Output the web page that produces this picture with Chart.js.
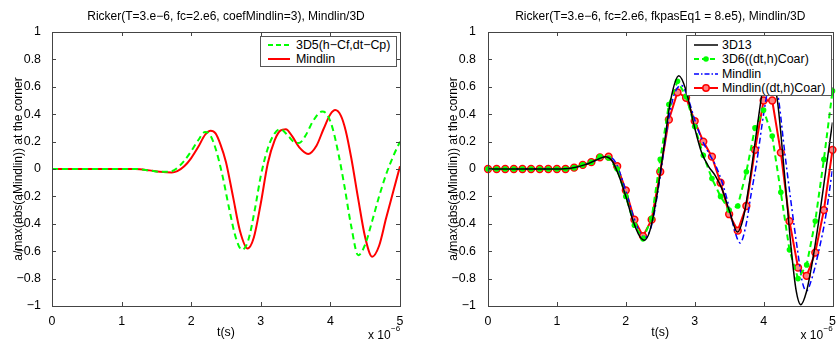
<!DOCTYPE html>
<html>
<head>
<meta charset="utf-8">
<script src="https://cdn.jsdelivr.net/npm/chart.js@4/dist/chart.umd.min.js"></script>
<style>
  body { margin: 0; background: #fff; width: 838px; height: 341px; overflow: hidden; position: relative; font-family: "Liberation Sans", Arial, sans-serif; }
  .box { position: absolute; top: 0; height: 341px; }
  .legend { position: absolute; background: #fff; border: 1px solid #555; font-size: 12.4px; color: #000; box-sizing: border-box; }
  .row { position: absolute; left: 0; height: 14px; line-height: 14px; white-space: nowrap; }
  .row svg { position: absolute; left: 6px; top: 0; }
  .row span { position: absolute; }
</style>
</head>
<body>
<div class="box" style="left:0;width:420px"><canvas id="g1"></canvas></div>
<div class="box" style="left:420px;width:418px"><canvas id="g2"></canvas></div>

<div class="legend" style="left:260px;top:36px;width:137px;height:31px">
  <div class="row" style="top:1px"><svg width="24" height="14"><line x1="1" y1="7" x2="23" y2="7" stroke="#00ff00" stroke-width="2" stroke-dasharray="5,3"/></svg><span style="left:35px">3D5(h−Cf,dt−Cp)</span></div>
  <div class="row" style="top:15px"><svg width="24" height="14"><line x1="1" y1="7" x2="23" y2="7" stroke="#ff0000" stroke-width="2"/></svg><span style="left:35px">Mindlin</span></div>
</div>

<div class="legend" style="left:686px;top:35px;width:146px;height:61px">
  <div class="row" style="top:2px"><svg width="26" height="14"><line x1="1" y1="7" x2="25" y2="7" stroke="#000" stroke-width="1.5"/></svg><span style="left:35px">3D13</span></div>
  <div class="row" style="top:16px"><svg width="26" height="14"><line x1="1" y1="7" x2="25" y2="7" stroke="#00ff00" stroke-width="2" stroke-dasharray="5,3"/><circle cx="13" cy="7" r="2.8" fill="#00ff00"/></svg><span style="left:35px">3D6((dt,h)Coar)</span></div>
  <div class="row" style="top:31px"><svg width="26" height="14"><line x1="1" y1="7" x2="25" y2="7" stroke="#0000ff" stroke-width="1.5" stroke-dasharray="5,2,1.5,2"/></svg><span style="left:35px">Mindlin</span></div>
  <div class="row" style="top:45px"><svg width="26" height="14"><line x1="1" y1="7" x2="25" y2="7" stroke="#ff0000" stroke-width="2"/><circle cx="13" cy="7" r="3.2" fill="#ff8080" stroke="#ff0000" stroke-width="1.5"/></svg><span style="left:35px">Mindlin((dt,h)Coar)</span></div>
</div>

<script>
// axes ticks (time in units of 1e-6 s)
const xTicks = [0, 1, 2, 3, 4, 5];
const yTicks = [-1, -0.8, -0.6, -0.4, -0.2, 0, 0.2, 0.4, 0.6, 0.8, 1];

// left panel: coefMindlin=3
const left3D5T = [0, 1.2, 1.4, 1.55, 1.68, 1.78, 1.9, 2.0, 2.1, 2.2, 2.27, 2.35, 2.45, 2.55, 2.64, 2.73, 2.82, 2.92, 3.0, 3.1, 3.2, 3.28, 3.38, 3.47, 3.55, 3.65, 3.75, 3.88, 3.95, 4.03, 4.12, 4.2, 4.3, 4.4, 4.5, 4.6, 4.7, 4.8, 4.9, 5.0];
const left3D5V = [0, 0, -0.01, -0.02, -0.02, 0.0, 0.06, 0.13, 0.21, 0.27, 0.25, 0.15, -0.05, -0.30, -0.50, -0.59, -0.52, -0.28, -0.05, 0.15, 0.26, 0.29, 0.25, 0.20, 0.19, 0.25, 0.35, 0.42, 0.40, 0.30, 0.10, -0.12, -0.42, -0.63, -0.55, -0.38, -0.20, -0.04, 0.09, 0.20];
const leftMindT = [0, 1.2, 1.4, 1.55, 1.72, 1.8, 1.9, 2.0, 2.1, 2.2, 2.28, 2.35, 2.42, 2.5, 2.6, 2.7, 2.81, 2.9, 3.0, 3.1, 3.2, 3.28, 3.36, 3.45, 3.55, 3.68, 3.8, 3.9, 4.0, 4.07, 4.15, 4.22, 4.3, 4.4, 4.5, 4.6, 4.7, 4.8, 4.9, 5.0];
const leftMindV = [0, 0, -0.01, -0.02, -0.025, -0.015, 0.02, 0.08, 0.16, 0.25, 0.28, 0.26, 0.18, 0.05, -0.20, -0.45, -0.58, -0.50, -0.25, 0.04, 0.21, 0.28, 0.29, 0.24, 0.16, 0.11, 0.17, 0.29, 0.40, 0.43, 0.39, 0.28, 0.08, -0.22, -0.50, -0.64, -0.56, -0.36, -0.17, 0.02];

// right panel: fkpasEq1 = 8.e5
const r3D13T = [0, 1.0, 1.2, 1.4, 1.55, 1.7, 1.8, 1.9, 2.0, 2.1, 2.2, 2.27, 2.35, 2.45, 2.55, 2.65, 2.77, 2.87, 3.0, 3.1, 3.2, 3.3, 3.4, 3.5, 3.62, 3.7, 3.8, 3.9, 4.0, 4.08, 4.2, 4.3, 4.4, 4.47, 4.54, 4.62, 4.7, 4.8, 4.9, 5.0];
const r3D13V = [0, 0, 0.005, 0.03, 0.06, 0.09, 0.06, -0.05, -0.20, -0.37, -0.49, -0.52, -0.45, -0.20, 0.15, 0.50, 0.68, 0.58, 0.30, 0.12, 0.02, -0.05, -0.15, -0.30, -0.46, -0.37, -0.08, 0.28, 0.62, 0.74, 0.50, -0.02, -0.58, -0.88, -0.99, -0.90, -0.70, -0.38, -0.02, 0.34];
const rMindT = [0, 1.0, 1.2, 1.4, 1.55, 1.72, 1.85, 2.0, 2.1, 2.2, 2.28, 2.38, 2.5, 2.6, 2.7, 2.81, 2.9, 3.0, 3.1, 3.2, 3.3, 3.4, 3.5, 3.58, 3.66, 3.74, 3.82, 3.9, 4.0, 4.08, 4.15, 4.22, 4.3, 4.4, 4.5, 4.56, 4.62, 4.7, 4.8, 4.9, 5.0];
const rMindV = [0, 0, 0.005, 0.03, 0.06, 0.09, 0.05, -0.16, -0.33, -0.46, -0.50, -0.40, -0.05, 0.30, 0.54, 0.61, 0.52, 0.36, 0.22, 0.12, 0.03, -0.10, -0.28, -0.45, -0.54, -0.42, -0.18, 0.05, 0.40, 0.62, 0.68, 0.50, 0.15, -0.25, -0.62, -0.82, -0.89, -0.80, -0.60, -0.35, 0.0];
const coarseT = [0, 0.125, 0.25, 0.375, 0.5, 0.625, 0.75, 0.875, 1, 1.125, 1.25, 1.375, 1.5, 1.625, 1.75, 1.875, 2, 2.125, 2.25, 2.375, 2.5, 2.625, 2.75, 2.875, 3, 3.125, 3.25, 3.375, 3.5, 3.625, 3.75, 3.875, 4, 4.125, 4.25, 4.375, 4.5, 4.625, 4.75, 4.875, 5];
const r3D6V = [0, 0, 0, 0, 0, 0, 0, 0, 0, 0, 0.01, 0.03, 0.05, 0.09, 0.08, 0.0, -0.20, -0.41, -0.51, -0.36, 0.07, 0.47, 0.64, 0.53, 0.31, 0.10, -0.07, -0.20, -0.30, -0.27, -0.02, 0.30, 0.43, 0.24, -0.17, -0.59, -0.80, -0.70, -0.38, 0.07, 0.57];
const rMindCoarV = [0, 0, 0, 0, 0, 0, 0, 0, 0, 0, 0.01, 0.03, 0.05, 0.085, 0.09, 0.02, -0.156, -0.37, -0.49, -0.37, -0.02, 0.36, 0.56, 0.52, 0.35, 0.20, 0.09, -0.10, -0.33, -0.45, -0.27, 0.14, 0.50, 0.50, 0.12, -0.38, -0.72, -0.78, -0.61, -0.30, 0.14];

const FONT = '"Liberation Sans", Arial, sans-serif';

function pts(ts, vs) {
  return ts.map((t, i) => ({ x: t, y: vs[i] }));
}

function fmt(v) {
  const r = Math.round(v * 10) / 10;
  return String(r).replace('-', '\u2212');
}

const matlabFrame = {
  id: 'matlabFrame',
  afterDraw(chart, args, opts) {
    const { ctx, chartArea } = chart;
    const { left, right, top, bottom } = chartArea;
    const sx = chart.scales.x, sy = chart.scales.y;
    ctx.save();
    ctx.strokeStyle = '#444';
    ctx.lineWidth = 1;
    ctx.beginPath();
    xTicks.forEach(v => {
      const p = Math.round(sx.getPixelForValue(v)) + 0.5;
      ctx.moveTo(p, bottom); ctx.lineTo(p, bottom - 4);
      ctx.moveTo(p, top); ctx.lineTo(p, top + 4);
    });
    yTicks.forEach(v => {
      const p = Math.round(sy.getPixelForValue(v)) + 0.5;
      ctx.moveTo(left, p); ctx.lineTo(left + 4, p);
      ctx.moveTo(right, p); ctx.lineTo(right - 4, p);
    });
    ctx.stroke();
    ctx.strokeRect(Math.round(left) + 0.5, Math.round(top) + 0.5, Math.round(right - left), Math.round(bottom - top));

    ctx.fillStyle = '#000';
    ctx.font = '12px ' + FONT;
    ctx.textAlign = 'center';
    ctx.textBaseline = 'middle';
    ctx.fillText(opts.title, (left + right) / 2, 17);

    ctx.textAlign = 'left';
    ctx.textBaseline = 'alphabetic';
    ctx.fillText('x 10', right - 32, 339);
    ctx.font = '8px ' + FONT;
    ctx.fillText('\u22126', right - 9, 331);
    ctx.restore();
  }
};

function makeChart(id, datasets, title, yWidth, padRight, yTitlePad, yTickPad) {
  const ctx = document.getElementById(id).getContext('2d');
  return new Chart(ctx, {
    type: 'line',
    data: { datasets: datasets },
    options: {
      responsive: true,
      maintainAspectRatio: false,
      animation: false,
      layout: { padding: { left: 0, right: padRight, top: 32, bottom: 0 } },
      plugins: {
        legend: { display: false },
        tooltip: { enabled: false },
        matlabFrame: { title: title },
      },
      elements: { point: { radius: 0 } },
      scales: {
        x: {
          type: 'linear',
          min: 0,
          max: 5,
          afterBuildTicks: s => { s.ticks = xTicks.map(v => ({ value: v })); },
          afterFit: s => { s.height = 35; },
          grid: { display: false },
          border: { display: false },
          ticks: { color: '#000', font: { family: FONT, size: 12.4 }, padding: 0, maxRotation: 0, callback: v => fmt(v) },
          title: { display: true, text: 't(s)', color: '#000', font: { family: FONT, size: 12.4 }, padding: { top: 0, bottom: 1 } },
        },
        y: {
          min: -1,
          max: 1,
          afterBuildTicks: s => { s.ticks = yTicks.map(v => ({ value: v })); },
          afterFit: s => { s.width = yWidth; },
          grid: { display: false },
          border: { display: false },
          ticks: { color: '#000', font: { family: FONT, size: 12.4 }, padding: yTickPad, callback: v => fmt(v) },
          title: { display: true, text: 'a/max(abs(aMindlin)) at the corner', color: '#000', font: { family: FONT, size: 12 }, padding: { top: yTitlePad, bottom: 0 } },
        },
      },
    },
    plugins: [matlabFrame],
  });
}

makeChart('g1', [
  {
    label: '3D5(h−Cf,dt−Cp)',
    data: pts(left3D5T, left3D5V),
    borderColor: '#00ff00',
    borderWidth: 2,
    borderDash: [6, 4],
    cubicInterpolationMode: 'monotone',
  },
  {
    label: 'Mindlin',
    data: pts(leftMindT, leftMindV),
    borderColor: '#ff0000',
    borderWidth: 2,
    cubicInterpolationMode: 'monotone',
  },
], 'Ricker(T=3.e\u22126, fc=2.e6, coefMindlin=3), Mindlin/3D', 52, 20, 11, 3);

makeChart('g2', [
  {
    label: '3D13',
    data: pts(r3D13T, r3D13V),
    borderColor: '#000000',
    borderWidth: 1.5,
    cubicInterpolationMode: 'monotone',
  },
  {
    label: '3D6((dt,h)Coar)',
    data: pts(coarseT, r3D6V),
    borderColor: '#00ff00',
    backgroundColor: '#00ff00',
    borderWidth: 2,
    borderDash: [6, 4],
    pointRadius: 2.8,
    pointBorderWidth: 0,
    clip: false,
  },
  {
    label: 'Mindlin',
    data: pts(rMindT, rMindV),
    borderColor: '#0000ff',
    borderWidth: 1.5,
    borderDash: [6, 3, 2, 3],
    cubicInterpolationMode: 'monotone',
  },
  {
    label: 'Mindlin((dt,h)Coar)',
    data: pts(coarseT, rMindCoarV),
    borderColor: '#ff0000',
    backgroundColor: '#ff8080',
    borderWidth: 2,
    pointRadius: 3.4,
    pointBorderWidth: 1.5,
    pointBorderColor: '#ff0000',
    clip: false,
  },
], 'Ricker(T=3.e\u22126, fc=2.e6, fkpasEq1 = 8.e5), Mindlin/3D', 68, 3, 26, 4);
</script>
</body>
</html>
